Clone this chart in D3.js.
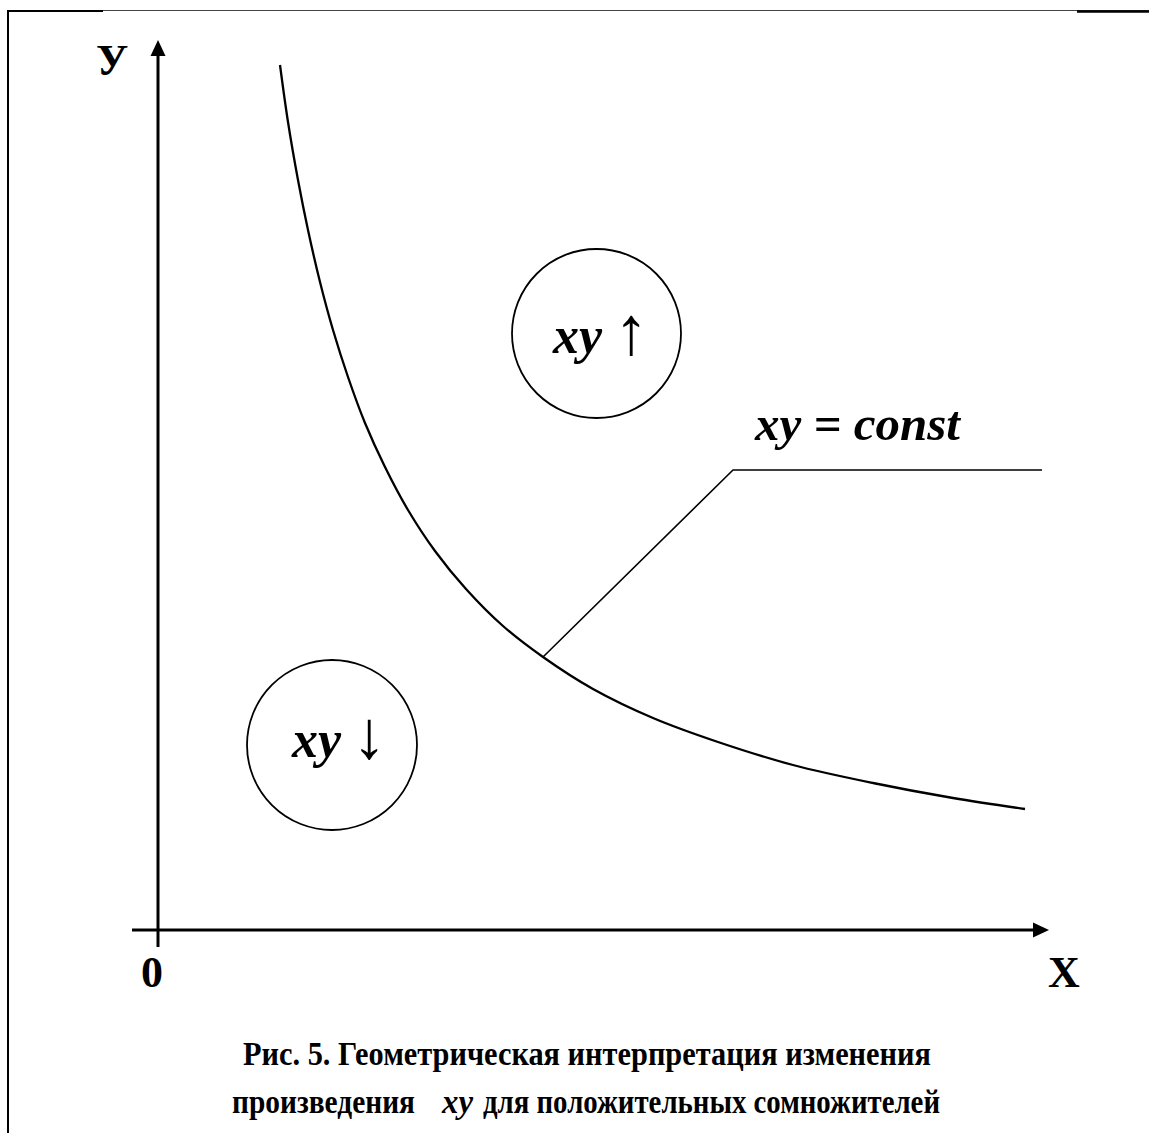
<!DOCTYPE html>
<html>
<head>
<meta charset="utf-8">
<script src="https://cdn.jsdelivr.net/npm/d3@7"></script>
<style>
    html, body { margin: 0; padding: 0; background: #fff; }
    #chart { width: 1149px; height: 1133px; }
    text { font-family: "Liberation Serif", "Times New Roman", serif; }
</style>
</head>
<body>
<div id="chart"></div>
<script>

// curve xy = const (1 unit = 100px from the origin)
let curveX = [1.22, 1.30, 1.40, 1.50, 1.62, 1.75, 1.90, 2.07, 2.27, 2.50, 2.77, 3.08, 3.45, 3.85, 4.35, 4.95, 5.60, 6.35, 7.15, 7.95, 8.67];
let curveY = [8.65, 8.08, 7.50, 7.00, 6.48, 6.00, 5.53, 5.07, 4.63, 4.20, 3.79, 3.41, 3.04, 2.73, 2.41, 2.12, 1.88, 1.65, 1.47, 1.32, 1.21];

let axisLabels = ["0", "X", "У"];
let regionLabels = ["xy", "xy"];
let regionArrows = ["↑", "↓"];
let curveLabel = "xy = const";
let captionLine1 = "Рис. 5. Геометрическая интерпретация изменения";
let captionLine2 = ["произведения", "xy", "для положительных сомножителей"];

class SketchVis {

    constructor(parentElement) {
        this.parentElement = parentElement;
        this.width = 1149;
        this.height = 1133;
        this.initVis();
    }

    initVis() {
        let vis = this;

        vis.svg = d3.select("#" + vis.parentElement).append("svg")
            .attr("width", vis.width)
            .attr("height", vis.height);

        // origin sits at (158, 930), 100px per unit
        vis.x = d3.scaleLinear().domain([0, 8.91]).range([158, 1049]);
        vis.y = d3.scaleLinear().domain([0, 8.9]).range([930, 40]);

        // page frame (left edge + top rule)
        vis.svg.append("line")
            .attr("x1", 8).attr("x2", 8).attr("y1", 10).attr("y2", vis.height)
            .attr("stroke", "#000").attr("stroke-width", 2);
        vis.svg.append("line")
            .attr("x1", 7).attr("x2", vis.width).attr("y1", 10.5).attr("y2", 10.5)
            .attr("stroke", "#444").attr("stroke-width", 1);
        vis.svg.append("line")
            .attr("x1", 7).attr("x2", 103).attr("y1", 11).attr("y2", 11)
            .attr("stroke", "#000").attr("stroke-width", 2);
        vis.svg.append("line")
            .attr("x1", 1077).attr("x2", vis.width).attr("y1", 11.5).attr("y2", 11.5)
            .attr("stroke", "#000").attr("stroke-width", 2.5);

        vis.drawAxes();
        vis.wrangleData();
    }

    drawAxes() {
        let vis = this;
        let x = vis.x, y = vis.y;

        // x axis with arrow
        vis.svg.append("line")
            .attr("x1", x(-0.26)).attr("x2", x(8.75))
            .attr("y1", y(0)).attr("y2", y(0))
            .attr("stroke", "#000").attr("stroke-width", 3);
        vis.svg.append("path")
            .attr("d", `M${x(8.91)},${y(0)} L${x(8.75)},${y(0) - 7.5} L${x(8.75)},${y(0) + 7.5} Z`)
            .attr("fill", "#000");

        // y axis with arrow
        vis.svg.append("line")
            .attr("x1", x(0)).attr("x2", x(0))
            .attr("y1", y(-0.17)).attr("y2", y(8.74))
            .attr("stroke", "#000").attr("stroke-width", 3);
        vis.svg.append("path")
            .attr("d", `M${x(0)},${y(8.9)} L${x(0) - 7.5},${y(8.74)} L${x(0) + 7.5},${y(8.74)} Z`)
            .attr("fill", "#000");

        vis.svg.append("text").text(axisLabels[0])
            .attr("x", 141).attr("y", 987)
            .attr("font-size", 44).attr("font-weight", "bold");
        vis.svg.append("text").text(axisLabels[1])
            .attr("x", 1048).attr("y", 987)
            .attr("font-size", 44).attr("font-weight", "bold");
        vis.svg.append("text").text(axisLabels[2])
            .attr("x", 96).attr("y", 75)
            .attr("font-size", 44).attr("font-weight", "bold");
    }

    wrangleData() {
        let vis = this;
        vis.curveData = curveX.map((d, i) => ({x: d, y: curveY[i]}));
        vis.updateVis();
    }

    updateVis() {
        let vis = this;
        let x = vis.x, y = vis.y;

        let line = d3.line()
            .x(d => x(d.x))
            .y(d => y(d.y))
            .curve(d3.curveCatmullRom);

        vis.svg.append("path")
            .datum(vis.curveData)
            .attr("d", line)
            .attr("fill", "none")
            .attr("stroke", "#000")
            .attr("stroke-width", 2.3);

        // pointer from the curve to the label
        let hit = vis.curveData[13];
        vis.svg.append("polyline")
            .attr("points", [[x(hit.x), y(hit.y)], [x(5.75), y(4.6)], [x(8.84), y(4.6)]].map(p => p.join(",")).join(" "))
            .attr("fill", "none")
            .attr("stroke", "#000")
            .attr("stroke-width", 1.6);

        vis.svg.append("text").text(curveLabel)
            .attr("x", 755).attr("y", 440)
            .attr("font-size", 49).attr("font-weight", "bold").attr("font-style", "italic");

        // region circles
        let circles = [
            {cx: 4.385, cy: 5.965, r: 84.5, tx: 553, ty: 353, ax: 614},
            {cx: 1.74, cy: 1.85, r: 85, tx: 292, ty: 757, ax: 352}
        ];
        circles.forEach((c, i) => {
            vis.svg.append("circle")
                .attr("cx", x(c.cx)).attr("cy", y(c.cy)).attr("r", c.r)
                .attr("fill", "none").attr("stroke", "#000").attr("stroke-width", 1.8);
            vis.svg.append("text").text(regionLabels[i])
                .attr("x", c.tx).attr("y", c.ty)
                .attr("font-size", 52).attr("font-weight", "bold").attr("font-style", "italic");
            vis.svg.append("text").text(regionArrows[i])
                .attr("x", c.ax).attr("y", c.ty + 1)
                .attr("font-size", 68);
        });

        // caption
        vis.svg.append("text").text(captionLine1)
            .attr("x", 243).attr("y", 1065)
            .attr("font-size", 34).attr("font-weight", "bold")
            .attr("textLength", 688).attr("lengthAdjust", "spacingAndGlyphs");

        // second line: plain word, italic xy, rest
        let cap2 = [
            {x: 232, len: 183, italic: false},
            {x: 442, len: 31, italic: true},
            {x: 483, len: 457, italic: false}
        ];
        cap2.forEach((c, i) => {
            vis.svg.append("text").text(captionLine2[i])
                .attr("x", c.x).attr("y", 1113)
                .attr("font-size", 34).attr("font-weight", "bold")
                .attr("font-style", c.italic ? "italic" : "normal")
                .attr("textLength", c.len).attr("lengthAdjust", "spacingAndGlyphs");
        });
    }
}

new SketchVis("chart");
</script>
</body>
</html>
